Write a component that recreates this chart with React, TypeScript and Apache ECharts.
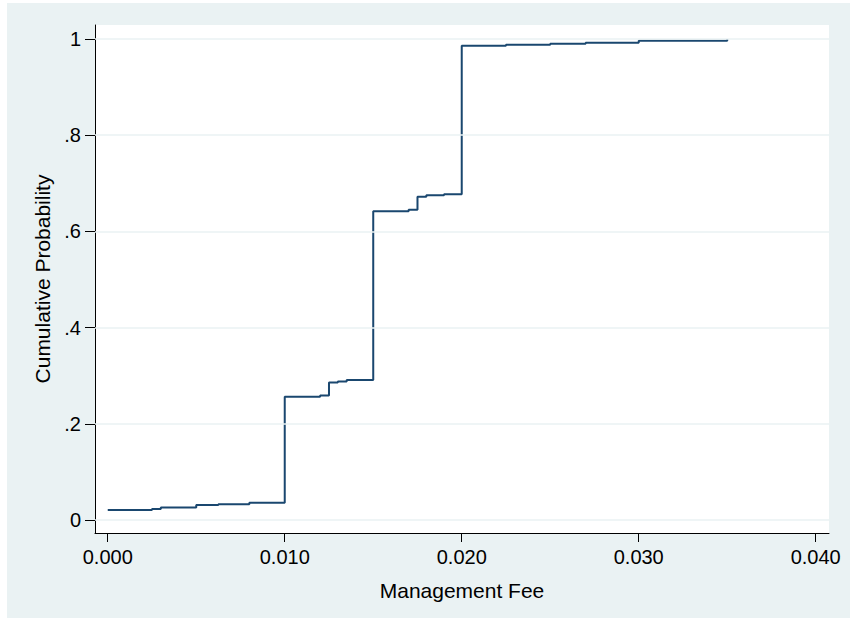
import React, { useEffect, useRef } from "react";
import * as echarts from "echarts";

// Management fee (x) and cumulative probability (y) of the empirical CDF steps
const fees = [
  0.0, 0.0025, 0.003, 0.005, 0.00625, 0.008, 0.01, 0.012, 0.0125, 0.013, 0.0135,
  0.015, 0.017, 0.0175, 0.018, 0.019, 0.02, 0.0225, 0.025, 0.027, 0.03, 0.035,
];
const cumProb = [
  0.021, 0.023, 0.026, 0.031, 0.033, 0.036, 0.256, 0.259, 0.286, 0.288, 0.291,
  0.642, 0.645, 0.672, 0.675, 0.677, 0.986, 0.988, 0.99, 0.992, 0.9965, 1.0,
];
const xTicks = [0, 0.01, 0.02, 0.03, 0.04];
const yTicks = [0, 0.2, 0.4, 0.6, 0.8, 1];

const xTitle = "Management Fee";
const yTitle = "Cumulative Probability";

const FONT = "'Liberation Sans', Arial, sans-serif";

export default function App() {
  const ref = useRef<HTMLDivElement>(null);

  useEffect(() => {
    if (!ref.current) return;
    const chart = echarts.init(ref.current, null, { renderer: "svg" });
    const fmtY = (v: number) => {
      if (Math.abs(v) < 1e-9) return "0";
      if (Math.abs(v - 1) < 1e-9) return "1";
      return v.toFixed(1).replace(/^0/, "");
    };
    chart.setOption({
      animation: false,
      backgroundColor: "#ffffff",
      graphic: [
        {
          type: "rect",
          z: -10,
          silent: true,
          shape: { x: 7, y: 3, width: 843, height: 615 },
          style: { fill: "#eaf2f3" },
        },
      ],
      grid: {
        left: 95,
        top: 25,
        right: 21,
        bottom: 85,
        show: true,
        backgroundColor: "#ffffff",
        borderWidth: 0,
        containLabel: false,
      },
      xAxis: {
        type: "value",
        min: -0.00072,
        max: 0.04075,
        name: xTitle,
        nameLocation: "middle",
        nameGap: 47,
        nameTextStyle: { fontFamily: FONT, fontSize: 21, color: "#000" },
        axisLine: { show: true, onZero: false, lineStyle: { color: "#000", width: 1 } },
        axisTick: {
          show: true,
          length: 9,
          customValues: xTicks,
          lineStyle: { color: "#000", width: 1 },
        },
        axisLabel: {
          customValues: xTicks,
          formatter: (v: number) => v.toFixed(3),
          fontFamily: FONT,
          fontSize: 20,
          color: "#000",
          margin: 14,
        },
        splitLine: { show: false },
      },
      yAxis: {
        type: "value",
        min: -0.027,
        max: 1.029,
        name: yTitle,
        nameLocation: "middle",
        nameGap: 38,
        nameTextStyle: { fontFamily: FONT, fontSize: 21, color: "#000" },
        axisLine: { show: true, onZero: false, lineStyle: { color: "#000", width: 1 } },
        axisTick: {
          show: true,
          length: 10,
          customValues: yTicks,
          lineStyle: { color: "#000", width: 1 },
        },
        axisLabel: {
          customValues: yTicks,
          formatter: fmtY,
          fontFamily: FONT,
          fontSize: 20,
          color: "#000",
          margin: 14,
        },
        splitLine: { show: false },
      },
      series: [
        {
          type: "line",
          z: 1,
          data: [],
          silent: true,
          markLine: {
            silent: true,
            symbol: "none",
            label: { show: false },
            lineStyle: { color: "#eaf2f3", width: 1.5, type: "solid" },
            data: yTicks.map((v) => ({ yAxis: v })),
          },
        },
        {
          type: "line",
          z: 2,
          step: "end",
          showSymbol: false,
          symbol: "none",
          data: fees.map((f, i) => [f, cumProb[i]]),
          lineStyle: { color: "#1a476f", width: 2 },
        },
      ],
    });
    return () => chart.dispose();
  }, []);

  return (
    <div
      ref={ref}
      style={{ position: "fixed", left: 0, top: 0, width: 850, height: 618 }}
    />
  );
}
